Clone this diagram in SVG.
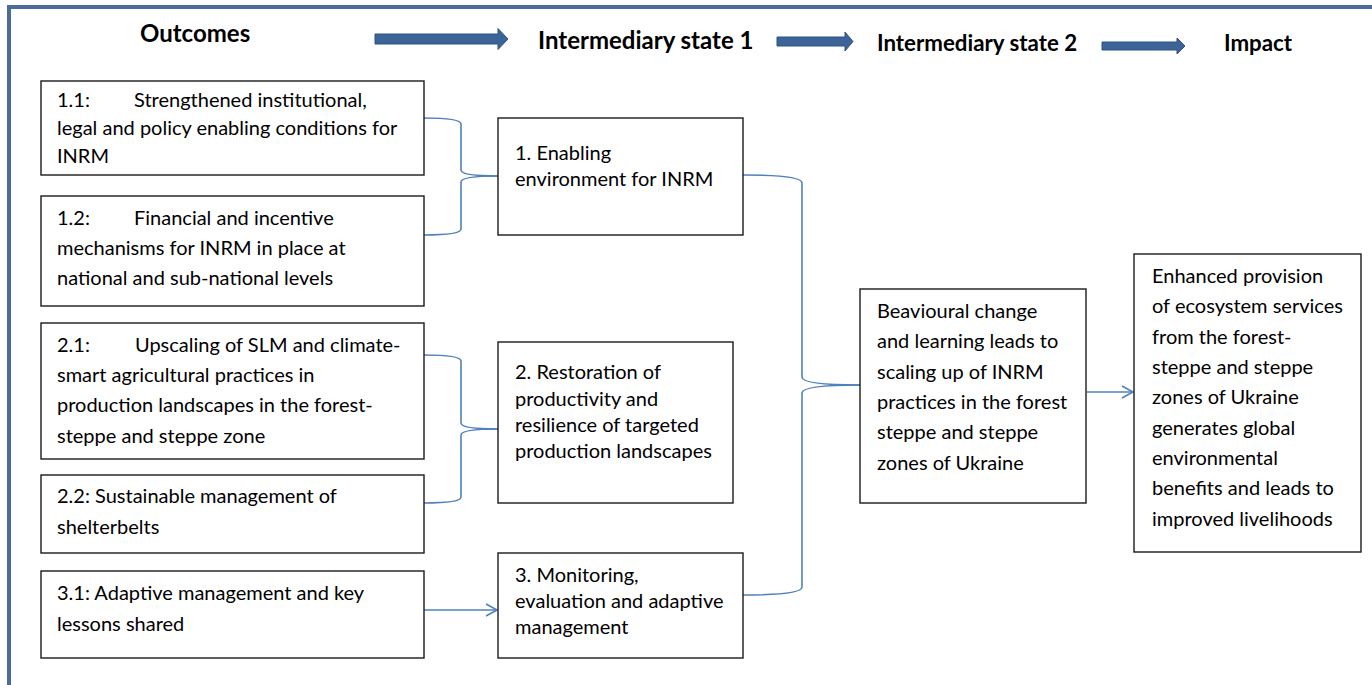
<svg xmlns="http://www.w3.org/2000/svg" width="1372" height="685" viewBox="0 0 1372 685">
<style>
.box{fill:#fff;stroke:#1a1a1a;stroke-width:1.4}
.t{font-family:Lato,"Liberation Sans",sans-serif;font-size:20px;fill:#000}
.h{font-family:Lato,"Liberation Sans",sans-serif;font-weight:bold;fill:#000}
.h1{font-size:24px}
.h2{font-size:22.3px}
.con{fill:none;stroke:#4F81BD;stroke-width:1.6}
.blk{fill:#3D6496;stroke:#2F5283;stroke-width:1}
</style>
<defs>
<marker id="open" markerWidth="14" markerHeight="14" refX="12" refY="7" orient="auto" markerUnits="userSpaceOnUse">
<path d="M1,1 L12,7 L1,13" fill="none" stroke="#4F81BD" stroke-width="1.6"/>
</marker>
</defs>
<rect width="1372" height="685" fill="#fff"/>
<path d="M9,690 L9,7 L1380,7" fill="none" stroke="#4A6D9E" stroke-width="4"/>

<g id="headers">
<text class="h h1" x="140" y="42">Outcomes</text>
<text class="h h1" x="538" y="49">Intermediary state 1</text>
<text class="h h2" x="877" y="51">Intermediary state 2</text>
<text class="h h2" x="1224" y="51">Impact</text>
<path class="blk" d="M375,34 L498,34 L498,28.5 L508,39 L498,49.5 L498,44 L375,44 Z"/>
<path class="blk" d="M777,37 L845,37 L845,32 L853,41.5 L845,51 L845,46 L777,46 Z"/>
<path class="blk" d="M1102,42 L1177,42 L1177,38 L1185,46 L1177,54 L1177,50 L1102,50 Z"/>
</g>

<g id="connectors">
<path class="con" d="M424,118 Q461,118 461,124 L461,170 Q461,176 498,176"/>
<path class="con" d="M498,176 Q461,176 461,182 L461,229 Q461,235 424,235"/>
<path class="con" d="M424,355 Q461,355 461,361 L461,423 Q461,429 498,429"/>
<path class="con" d="M498,429 Q461,429 461,435 L461,497 Q461,503 424,503"/>
<path class="con" d="M743,175 Q802,175 802,183 L802,377 Q802,385 860,385"/>
<path class="con" d="M860,385 Q802,385 802,393 L802,587 Q802,595 743,595"/>
<path class="con" d="M424,610 L497,610" marker-end="url(#open)"/>
<path class="con" d="M1087,392 L1133,392" marker-end="url(#open)"/>
</g>

<g id="n11"><rect class="box" x="41" y="81" width="383" height="94"/>
<text class="t"><tspan x="57" y="107">1.1:</tspan><tspan x="134" y="107">Strengthened institutional,</tspan><tspan x="57" y="135">legal and policy enabling conditions for</tspan><tspan x="57" y="163">INRM</tspan></text></g>

<g id="n12"><rect class="box" x="41" y="196" width="383" height="110"/>
<text class="t"><tspan x="57" y="225">1.2:</tspan><tspan x="134" y="225">Financial and incentive</tspan><tspan x="57" y="255">mechanisms for INRM in place at</tspan><tspan x="57" y="285">national and sub-national levels</tspan></text></g>

<g id="n21"><rect class="box" x="41" y="323" width="383" height="136"/>
<text class="t"><tspan x="57" y="352">2.1:</tspan><tspan x="135" y="352">Upscaling of SLM and climate-</tspan><tspan x="57" y="382">smart agricultural practices in</tspan><tspan x="57" y="412">production landscapes in the forest-</tspan><tspan x="57" y="443">steppe and steppe zone</tspan></text></g>

<g id="n22"><rect class="box" x="41" y="475" width="383" height="78"/>
<text class="t"><tspan x="57" y="503">2.2: Sustainable management of</tspan><tspan x="57" y="534">shelterbelts</tspan></text></g>

<g id="n31"><rect class="box" x="41" y="571" width="383" height="87"/>
<text class="t"><tspan x="57" y="600">3.1: Adaptive management and key</tspan><tspan x="57" y="631">lessons shared</tspan></text></g>

<g id="n1"><rect class="box" x="498" y="118" width="245" height="117"/>
<text class="t"><tspan x="515" y="160">1. Enabling</tspan><tspan x="515" y="186">environment for INRM</tspan></text></g>

<g id="n2"><rect class="box" x="498" y="342" width="235" height="161"/>
<text class="t"><tspan x="515" y="379">2. Restoration of</tspan><tspan x="515" y="406">productivity and</tspan><tspan x="515" y="432">resilience of targeted</tspan><tspan x="515" y="458">production landscapes</tspan></text></g>

<g id="n3"><rect class="box" x="498" y="553" width="245" height="105"/>
<text class="t"><tspan x="515" y="582">3. Monitoring,</tspan><tspan x="515" y="608">evaluation and adaptive</tspan><tspan x="515" y="634">management</tspan></text></g>

<g id="nb"><rect class="box" x="860" y="289" width="226" height="214"/>
<text class="t"><tspan x="877" y="318">Beavioural change</tspan><tspan x="877" y="348">and learning leads to</tspan><tspan x="877" y="379">scaling up of INRM</tspan><tspan x="877" y="409">practices in the forest</tspan><tspan x="877" y="439">steppe and steppe</tspan><tspan x="877" y="470">zones of Ukraine</tspan></text></g>

<g id="ni"><rect class="box" x="1134" y="254" width="227" height="298"/>
<text class="t"><tspan x="1152" y="283">Enhanced provision</tspan><tspan x="1152" y="313">of ecosystem services</tspan><tspan x="1152" y="344">from the forest-</tspan><tspan x="1152" y="374">steppe and steppe</tspan><tspan x="1152" y="404">zones of Ukraine</tspan><tspan x="1152" y="435">generates global</tspan><tspan x="1152" y="465">environmental</tspan><tspan x="1152" y="495">benefits and leads to</tspan><tspan x="1152" y="526">improved livelihoods</tspan></text></g>
</svg>
